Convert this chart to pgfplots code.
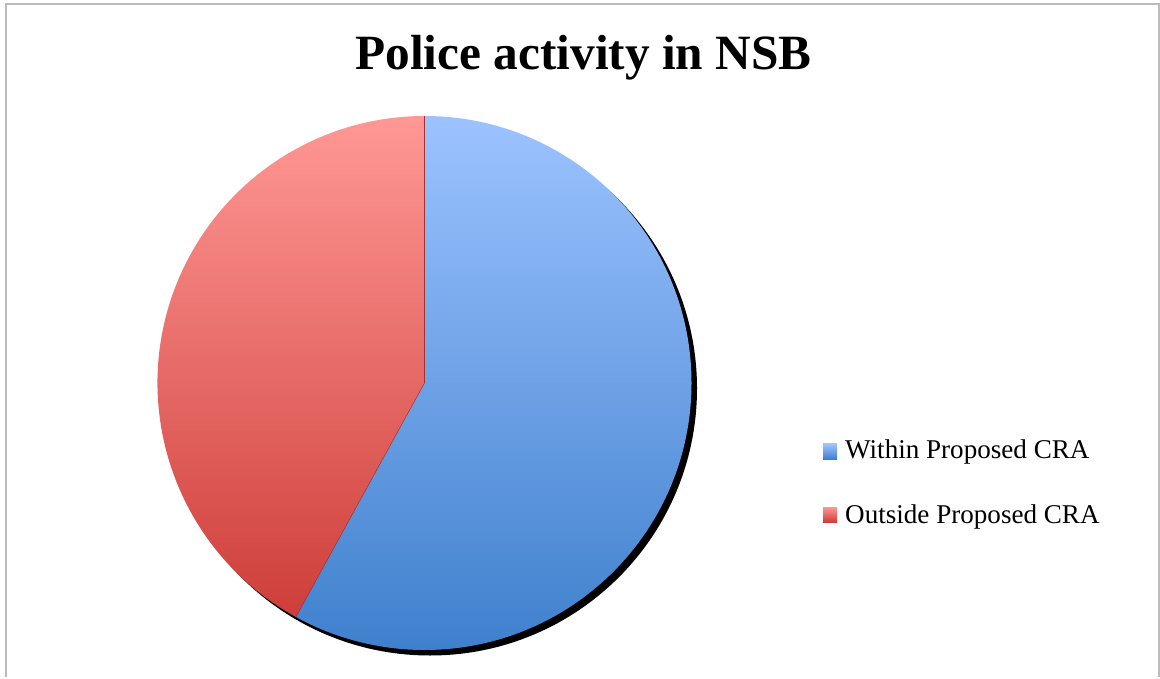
\documentclass[border=0pt]{standalone}
\usepackage{fontspec}
\setmainfont{Liberation Serif}
\usepackage{pgfplots}
\usepackage{pgfplotstable}
\pgfplotsset{compat=1.18}
\definecolor{bluetop}{HTML}{9CC3FF}
\definecolor{bluebot}{HTML}{3F80CD}
\definecolor{redtop}{HTML}{FF9895}
\definecolor{redbot}{HTML}{CE3E3A}
\definecolor{framegray}{HTML}{BBBBBB}
\pgfplotstableread{
label value
Within 58
Outside 42
}\piedata
\begin{document}
\begin{tikzpicture}
\pgfplotstablegetelem{0}{value}\of\piedata \let\va\pgfplotsretval
\pgfplotstablegetelem{1}{value}\of\piedata \let\vb\pgfplotsretval
\pgfmathsetmacro{\frac}{\va/(\va+\vb)}
\pgfmathsetmacro{\angA}{90-360*\frac}
\begin{axis}[hide axis, scale only axis, width=1160bp, height=677bp,
  xmin=0, xmax=1160, ymin=0, ymax=677, clip=false]
\path (axis cs:0,0) rectangle (axis cs:1160,677);
% frame
\draw[framegray, line width=2bp] (axis cs:5.5,0) -- (axis cs:5.5,672.5) -- (axis cs:1159,672.5) -- (axis cs:1159,0);
% title
\node[anchor=base, font=\bfseries\fontsize{49.5}{49.5}\selectfont, inner sep=0pt] at (axis cs:583.5,607) {Police activity in NSB};
% shadow
\fill[black] (axis cs:430,288.5) circle[radius=267bp];
% slices
\shade[top color=bluetop, bottom color=bluebot] (axis cs:424.5,294) -- ++(90:267bp) arc[start angle=90, end angle=\angA, radius=267bp] -- cycle;
\shade[top color=redtop, bottom color=redbot] (axis cs:424.5,294) -- ++(\angA:267bp) arc[start angle=\angA, end angle=-270, radius=267bp] -- cycle;
\draw[redbot!80!black, line width=0.4bp] (axis cs:424.5,294) -- ++(90:267bp);
\draw[redbot!80!black, line width=0.4bp] (axis cs:424.5,294) -- ++(\angA:267bp);
% legend
\shade[top color=bluetop, bottom color=bluebot] (axis cs:823,218) rectangle (axis cs:837,233);
\shade[top color=redtop, bottom color=redbot] (axis cs:823,155) rectangle (axis cs:837,170);
\node[anchor=base west, inner sep=0pt, font=\fontsize{27.2}{27.2}\selectfont] at (axis cs:845,218) {Within Proposed CRA};
\node[anchor=base west, inner sep=0pt, font=\fontsize{27.2}{27.2}\selectfont] at (axis cs:845,154) {Outside Proposed CRA};
\end{axis}
\end{tikzpicture}
\end{document}
